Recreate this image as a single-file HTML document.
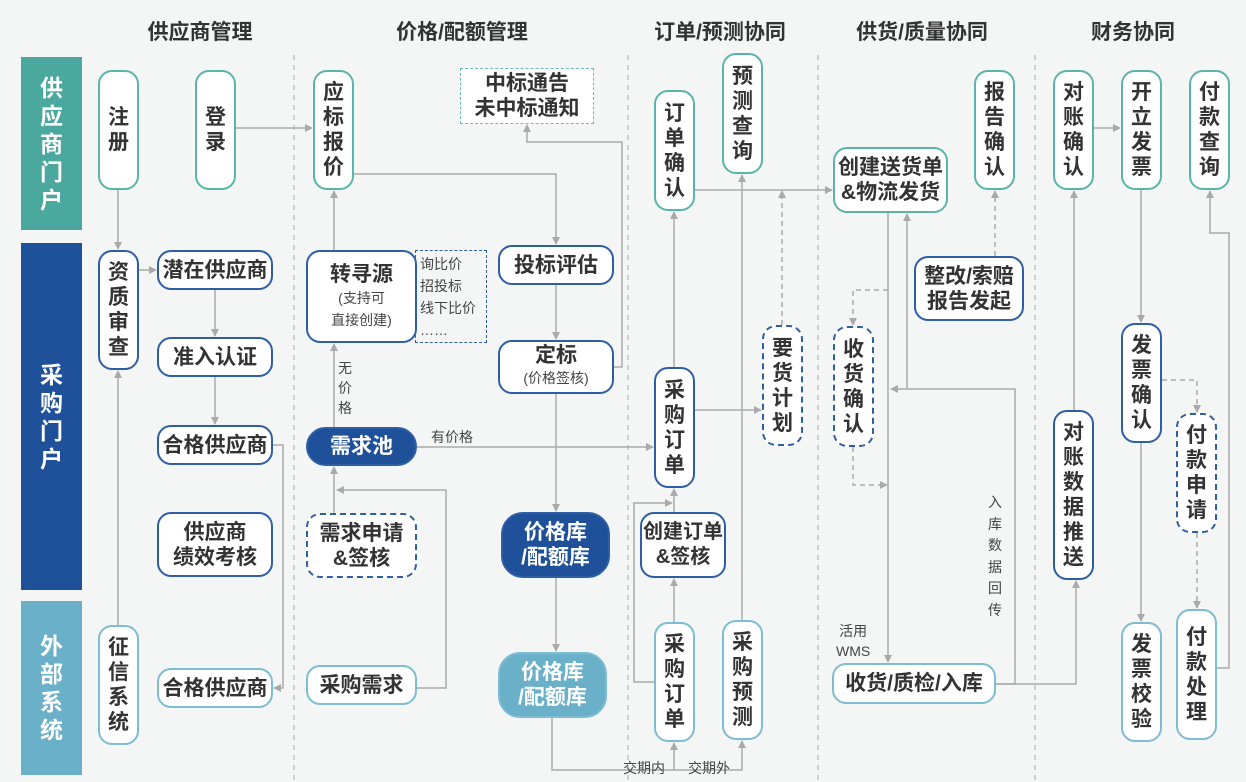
<!DOCTYPE html>
<html><head><meta charset="utf-8"><style>
body{margin:0;width:1246px;height:782px;background:#f4f6f5;position:relative;overflow:hidden;font-family:"Liberation Sans","Noto Sans CJK SC",sans-serif;}
.h{position:absolute;top:16px;font-size:21px;font-weight:bold;color:#333;width:200px;text-align:center}
.lane{position:absolute;left:21px;width:61px;color:#fff;font-size:23px;font-weight:bold;display:flex;align-items:center;justify-content:center;text-align:center;line-height:28px}
.n{position:absolute;box-sizing:border-box;background:#fff;border:2px solid #5bb4aa;border-radius:14px;display:flex;align-items:center;justify-content:center;text-align:center;font-size:21px;font-weight:bold;color:#333;line-height:25px;white-space:nowrap}
.b{border-color:#2e5fa5}
.l{border-color:#7dbcd3}
.d{border-style:dashed}
.v{font-size:21px;line-height:25px}
.s{font-size:14px;font-weight:normal;line-height:22px;color:#444}
.t{position:absolute;font-size:14px;color:#444;line-height:20px;text-align:center}
svg{position:absolute;left:0;top:0}
</style></head><body>
<svg width="1246" height="782">
<defs><marker id="a" markerWidth="8" markerHeight="8" refX="7" refY="4" orient="auto" markerUnits="userSpaceOnUse"><path d="M0,0L8,4L0,8z" fill="#aaa"/></marker></defs>
<g stroke="#bbb" stroke-width="1.3" stroke-dasharray="5,5" fill="none">
<line x1="294" y1="55" x2="294" y2="780"/><line x1="628" y1="55" x2="628" y2="780"/><line x1="818" y1="55" x2="818" y2="780"/><line x1="1035" y1="55" x2="1035" y2="780"/>
</g>
<g stroke="#aaa" stroke-width="1.5" fill="none" marker-end="url(#a)">
<line x1="118" y1="190" x2="118" y2="249"/>
<line x1="118" y1="625" x2="118" y2="371"/>
<line x1="139" y1="270" x2="156" y2="270"/>
<line x1="215" y1="290" x2="215" y2="336"/>
<line x1="215" y1="377" x2="215" y2="424"/>
<polyline points="273,445 283,445 283,688 274,688"/>
<line x1="236" y1="128" x2="312" y2="128"/>
<line x1="334" y1="250" x2="334" y2="191"/>
<line x1="334" y1="427" x2="334" y2="344"/>
<line x1="334" y1="513" x2="334" y2="467"/>
<polyline points="417,688 446,688 446,490 337,490"/>
<line x1="417" y1="447" x2="653" y2="447"/>
<polyline points="354,174 556,174 556,244"/>
<line x1="556" y1="285" x2="556" y2="339"/>
<polyline points="614,367 622,367 622,142 527,142 527,125"/>
<line x1="556" y1="394" x2="556" y2="511"/>
<line x1="556" y1="578" x2="556" y2="651"/>
<polyline points="552,718 552,770 674,770 674,743"/>
<polyline points="674,770 742,770 742,741"/>
<line x1="674" y1="622" x2="674" y2="579"/>
<polyline points="654,682 634,682 634,503 672,503"/>
<line x1="674" y1="512" x2="674" y2="489"/>
<line x1="674" y1="367" x2="674" y2="212"/>
<line x1="695" y1="410" x2="761" y2="410"/>
<line x1="695" y1="190" x2="832" y2="190"/>
<line x1="742" y1="620" x2="742" y2="175"/>
<line x1="888" y1="213" x2="888" y2="662"/>
<polyline points="996,684 1015,684 1015,389 891,389"/>
<line x1="907" y1="389" x2="907" y2="214"/>
<polyline points="996,684 1076,684 1076,581"/>
<line x1="1074" y1="410" x2="1074" y2="191"/>
<line x1="1094" y1="128" x2="1120" y2="128"/>
<line x1="1141" y1="190" x2="1141" y2="322"/>
<line x1="1141" y1="443" x2="1141" y2="621"/>
<polyline points="1217,668 1229,668 1229,233 1210,233 1210,191"/>
</g>
<g stroke="#aaa" stroke-width="1.5" fill="none" stroke-dasharray="5,4" marker-end="url(#a)">
<line x1="782" y1="325" x2="782" y2="191"/>
<polyline points="888,290 853,290 853,325"/>
<polyline points="853,447 853,485 887,485"/>
<line x1="995" y1="256" x2="995" y2="191"/>
<polyline points="1162,380 1197,380 1197,412"/>
<line x1="1197" y1="533" x2="1197" y2="608"/>
</g>
</svg>
<div class="h" style="left:100px">供应商管理</div>
<div class="h" style="left:362px">价格/配额管理</div>
<div class="h" style="left:620px">订单/预测协同</div>
<div class="h" style="left:822px">供货/质量协同</div>
<div class="h" style="left:1033px">财务协同</div>
<div class="lane" style="top:57px;height:173px;background:#4ba89e">供<br>应<br>商<br>门<br>户</div>
<div class="lane" style="top:243px;height:347px;background:#1e519a">采<br>购<br>门<br>户</div>
<div class="lane" style="top:601px;height:174px;background:#6ab0c8">外<br>部<br>系<br>统</div>

<div class="n v" style="left:98px;top:70px;width:41px;height:120px">注<br>册</div>
<div class="n v" style="left:195px;top:70px;width:41px;height:120px">登<br>录</div>
<div class="n v" style="left:313px;top:70px;width:41px;height:120px">应<br>标<br>报<br>价</div>
<div class="n d" style="left:460px;top:68px;width:134px;height:56px;border-radius:0;border-width:1.5px;border-color:#6bbdb3">中标通告<br>未中标通知</div>
<div class="n v" style="left:654px;top:90px;width:41px;height:121px">订<br>单<br>确<br>认</div>
<div class="n v" style="left:722px;top:53px;width:41px;height:121px">预<br>测<br>查<br>询</div>
<div class="n" style="left:833px;top:147px;width:115px;height:66px">创建送货单<br>&amp;物流发货</div>
<div class="n v" style="left:974px;top:70px;width:41px;height:120px">报<br>告<br>确<br>认</div>
<div class="n v" style="left:1053px;top:70px;width:41px;height:120px">对<br>账<br>确<br>认</div>
<div class="n v" style="left:1121px;top:70px;width:41px;height:120px">开<br>立<br>发<br>票</div>
<div class="n v" style="left:1189px;top:70px;width:41px;height:120px">付<br>款<br>查<br>询</div>

<div class="n b v" style="left:98px;top:250px;width:41px;height:120px">资<br>质<br>审<br>查</div>
<div class="n b" style="left:157px;top:250px;width:116px;height:40px">潜在供应商</div>
<div class="n b" style="left:157px;top:337px;width:116px;height:40px">准入认证</div>
<div class="n b" style="left:157px;top:425px;width:116px;height:40px">合格供应商</div>
<div class="n b" style="left:157px;top:512px;width:116px;height:65px">供应商<br>绩效考核</div>
<div class="n b" style="left:306px;top:250px;width:111px;height:93px;flex-direction:column">转寻源<span class="s">(支持可<br>直接创建)</span></div>
<div class="n d b s" style="left:415px;top:250px;width:72px;height:93px;border-width:1.5px;border-radius:0;background:transparent;text-align:left;justify-content:flex-start;padding-left:4px">询比价<br>招投标<br>线下比价<br>……</div>
<div class="n b" style="left:498px;top:245px;width:116px;height:40px">投标评估</div>
<div class="n b" style="left:498px;top:340px;width:116px;height:54px;flex-direction:column;line-height:22px">定标<span class="s">(价格签核)</span></div>
<div class="n b" style="left:306px;top:427px;width:111px;height:39px;background:#1e519a;color:#fff;border-radius:20px">需求池</div>
<div class="n b d" style="left:306px;top:513px;width:111px;height:65px">需求申请<br>&amp;签核</div>
<div class="n b" style="left:501px;top:512px;width:109px;height:66px;background:#1e519a;color:#fff;border-radius:22px">价格库<br>/配额库</div>
<div class="n b v" style="left:654px;top:367px;width:41px;height:121px">采<br>购<br>订<br>单</div>
<div class="n b d v" style="left:762px;top:325px;width:41px;height:121px">要<br>货<br>计<br>划</div>
<div class="n b d v" style="left:833px;top:326px;width:41px;height:121px">收<br>货<br>确<br>认</div>
<div class="n b" style="left:914px;top:256px;width:110px;height:65px">整改/索赔<br>报告发起</div>
<div class="n b v" style="left:1053px;top:410px;width:41px;height:170px">对<br>账<br>数<br>据<br>推<br>送</div>
<div class="n b v" style="left:1121px;top:323px;width:41px;height:120px">发<br>票<br>确<br>认</div>
<div class="n b d v" style="left:1176px;top:413px;width:41px;height:120px">付<br>款<br>申<br>请</div>
<div class="n b" style="left:640px;top:512px;width:86px;height:66px;font-size:20px">创建订单<br>&amp;签核</div>

<div class="n l v" style="left:98px;top:625px;width:41px;height:120px">征<br>信<br>系<br>统</div>
<div class="n l" style="left:157px;top:668px;width:116px;height:40px">合格供应商</div>
<div class="n l" style="left:306px;top:665px;width:111px;height:40px">采购需求</div>
<div class="n l" style="left:498px;top:652px;width:109px;height:66px;background:#6ab0c8;color:#fff;border-radius:22px">价格库<br>/配额库</div>
<div class="n l v" style="left:654px;top:622px;width:41px;height:120px">采<br>购<br>订<br>单</div>
<div class="n l v" style="left:722px;top:620px;width:41px;height:120px">采<br>购<br>预<br>测</div>
<div class="n l" style="left:832px;top:663px;width:164px;height:41px">收货/质检/入库</div>
<div class="n l v" style="left:1121px;top:622px;width:41px;height:120px">发<br>票<br>校<br>验</div>
<div class="n l v" style="left:1176px;top:609px;width:41px;height:131px">付<br>款<br>处<br>理</div>

<div class="t" style="left:338px;top:358px">无<br>价<br>格</div>
<div class="t" style="left:431px;top:427px">有价格</div>
<div class="t" style="left:623px;top:758px">交期内</div>
<div class="t" style="left:688px;top:758px">交期外</div>
<div class="t" style="left:836px;top:621px">活用<br>WMS</div>
<div class="t" style="left:988px;top:492px;line-height:21.5px">入<br>库<br>数<br>据<br>回<br>传</div>
</body></html>
